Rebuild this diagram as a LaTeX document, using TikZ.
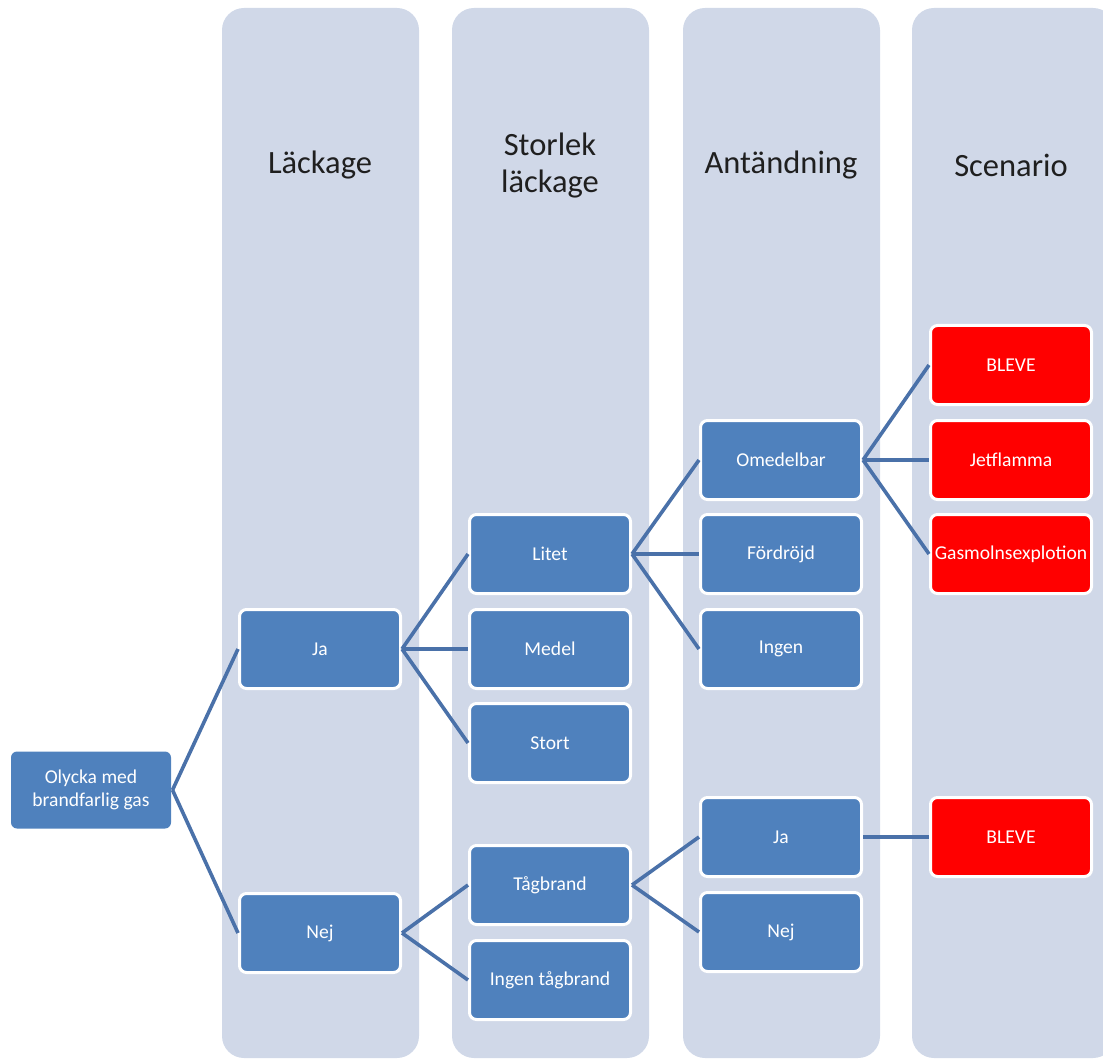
\documentclass[tikz,border=0pt]{standalone}
\usepackage{fontspec}
\setmainfont{Carlito}
\definecolor{lanefill}{HTML}{D0D8E8}
\definecolor{nodeblue}{HTML}{4F81BD}
\definecolor{linkblue}{HTML}{4A71A9}
\definecolor{scenred}{HTML}{FF0000}
\begin{document}
\begin{tikzpicture}[x=1pt,y=-1pt,
  lane/.style={fill=lanefill, rounded corners=22pt},
  lanetitle/.style={font=\fontsize{32.5}{37}\selectfont, text=black!88, align=center},
  box/.style={rectangle, rounded corners=7pt, fill=nodeblue, draw=white, line width=3pt,
    minimum width=161pt, minimum height=79pt, inner sep=0pt, text=white,
    font=\fontsize{19.6}{23}\selectfont, align=center},
  rootbox/.style={box, draw=none, minimum width=160pt, minimum height=77pt, rounded corners=6pt},
  scen/.style={box, fill=scenred},
  link/.style={draw=linkblue, line width=3.6pt}]
\useasboundingbox (0,0) rectangle (1103,1059);
\clip (0,0) rectangle (1103,1059);

% column lanes
\fill[lane] (222,8) rectangle (419,1058);
\fill[lane] (452,8) rectangle (649,1058);
\fill[lane] (683,8) rectangle (880,1058);
\fill[lane] (912,8) rectangle (1115,1058);

% lane headings
\node[lanetitle] (h1) at (320,165) {Läckage};
\node[lanetitle] (h2) at (550,166) {Storlek\\läckage};
\node[lanetitle] (h3) at (781,165) {Antändning};
\node[lanetitle] (h4) at (1011,165) {Scenario};

% event tree nodes
\node[rootbox] (root) at (91,790) {Olycka med\\brandfarlig gas};

\node[box] (ja)  at (320,649) {Ja};
\node[box] (nej) at (320,933) {Nej};

\node[box] (litet) at (550,554) {Litet};
\node[box] (medel) at (550,649) {Medel};
\node[box] (stort) at (550,743) {Stort};
\node[box] (tag)   at (550,885) {Tågbrand};
\node[box] (ingentag) at (550,980) {Ingen tågbrand};

\node[box] (omed)  at (781,460) {Omedelbar};
\node[box] (ford)  at (781,554) {Fördröjd};
\node[box] (ingen) at (781,649) {Ingen};
\node[box] (ja2)   at (781,837) {Ja};
\node[box] (nej2)  at (781,932) {Nej};

\node[scen] (bleve) at (1011,365) {BLEVE};
\node[scen] (jet)   at (1011,460) {Jetflamma};
\node[scen] (gas)   at (1011,554) {Gasmolnsexplotion};
\node[scen] (bleve2) at (1011,837) {BLEVE};

% connectors
\draw[link] (root.east) -- (ja.west);
\draw[link] (root.east) -- (nej.west);
\draw[link] (ja.east) -- (litet.west);
\draw[link] (ja.east) -- (medel.west);
\draw[link] (ja.east) -- (stort.west);
\draw[link] (nej.east) -- (tag.west);
\draw[link] (nej.east) -- (ingentag.west);
\draw[link] (litet.east) -- (omed.west);
\draw[link] (litet.east) -- (ford.west);
\draw[link] (litet.east) -- (ingen.west);
\draw[link] (tag.east) -- (ja2.west);
\draw[link] (tag.east) -- (nej2.west);
\draw[link] (omed.east) -- (bleve.west);
\draw[link] (omed.east) -- (jet.west);
\draw[link] (omed.east) -- (gas.west);
\draw[link] (ja2.east) -- (bleve2.west);
\end{tikzpicture}
\end{document}
